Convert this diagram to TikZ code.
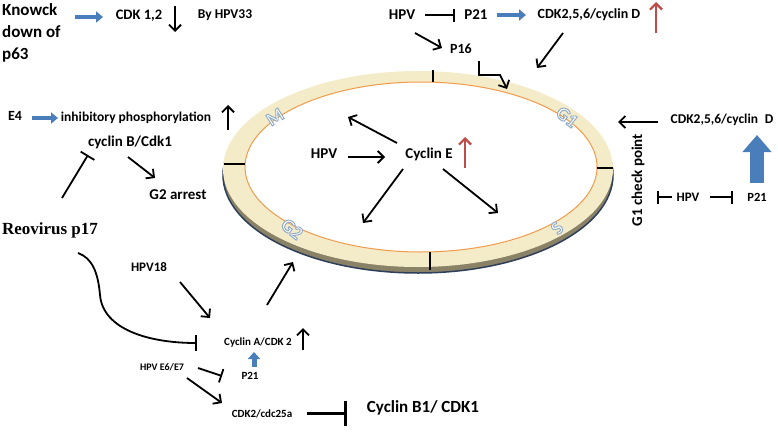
\documentclass[tikz,border=0pt]{standalone}
\usepackage{fontspec}
\setmainfont{Carlito}
\newfontfamily\reofont{Liberation Serif}
\usepackage{xcolor}
\usetikzlibrary{arrows.meta,calc}
\definecolor{azulf}{HTML}{4A7EBB}
\definecolor{rojof}{HTML}{BE4B48}
\definecolor{anillo}{HTML}{F4ECC8}
\definecolor{sombra}{HTML}{8A8266}
\definecolor{borde}{HTML}{2E3F5C}
\definecolor{naranja}{HTML}{F39A4A}
% letra con contorno
\newcommand\contorno[1]{{\color{white}%
    \special{pdf:literal direct 0.55 0.66 0.77 RG 0.9 w 2 Tr}#1%
    \special{pdf:literal direct 0 Tr}}}

\begin{document}
\begin{tikzpicture}
    [x=1pt, y=-1pt,
    lbl/.style = {font=\bfseries\fontsize{#1}{#1}\selectfont, inner sep=0pt},
    lbl/.default = 14,
    flecha/.style = {-{Straight Barb[length=6pt,width=12pt]}, line width=1.8pt},
    inhibe/.style = {-{Bar[width=#1]}, line width=1.8pt},
    inhibe/.default = 13pt,
    azul/.style = {-{Triangle[length=7pt,width=11pt]}, line width=3.5pt, azulf},
    roja/.style = {flecha, rojof, line width=2.2pt},
    fase/.style = {font=\bfseries\fontsize{19}{19}\selectfont, inner sep=0pt}]
    \useasboundingbox (0,0) rectangle (778,431);
    % Anillo del ciclo
    \filldraw[fill=sombra, draw=borde, line width=1.5pt] (418,175) ellipse [x radius=195, y radius=98];
    \fill[anillo] (418,169) ellipse [x radius=195, y radius=98];
    \filldraw[fill=white, draw=naranja, line width=1pt] (421,167) ellipse [x radius=176, y radius=85];
    \draw[line width=1.2pt] (433,70) -- (433,82);
    \draw[line width=1.2pt] (224,164) -- (245,164);
    \draw[line width=1.2pt] (430,252) -- (430,270);
    \draw[line width=1.2pt] (597,168) -- (613,168);
    % Fases
    \node[fase, rotate=32] (M) at (275,117) {\contorno{M}};
    \node[fase, rotate=-38] (G1) at (567,117) {\contorno{G1}};
    \node[fase, rotate=45] (S) at (557,228) {\contorno{S}};
    \node[fase, rotate=-38] (G2) at (292,229) {\contorno{G2}};
    % Puntos del anillo
    \coordinate (g1top) at (537,68);
    \coordinate (topG1) at (507,89);
    \coordinate (mpt) at (348,117);
    \coordinate (g2pt) at (363,223);
    \coordinate (spt) at (498,213);
    \coordinate (g1pt) at (618,122);
    \coordinate (g2ring) at (293,262);
    % Arriba
    \node[lbl=17, font=\bfseries\fontsize{17}{22}\selectfont, align=left, anchor=west] (knock) at (2,33) {Knowck\\down of\\p63};
    \node[lbl=14.5] (cdk12) at (139,16) {CDK 1,2};
    \node[lbl=13.5] (by33) at (225,15) {By HPV33};
    \node[lbl=15] (hpvA) at (402,15) {HPV};
    \node[lbl=15] (p21A) at (476,15) {P21};
    \node[lbl=14] (cycDA) at (589,15) {CDK2,5,6/cyclin D};
    \node[lbl=14] (p16) at (461,49) {P16};
    \draw[azul] ($(cdk12)+(-64,1)$) -- ($(cdk12)+(-36,1)$);
    \draw[flecha] ($(cdk12)+(36,-10)$) -- ++(0,26);
    \draw[inhibe] ($(hpvA)+(23,0)$) -- ($(p21A)+(-21,0)$);
    \draw[azul] ($(p21A)+(21,0)$) -- ($(cycDA)+(-63,0)$);
    \draw[roja] ($(cycDA)+(67,18)$) -- ++(0,-31);
    \draw[flecha] ($(hpvA)+(13,18)$) -- ($(p16)+(-19,-1)$);
    \draw[flecha] ($(p16)+(18,12)$) -- ++(0,14) -- ++(21,0) -- (topG1);
    \draw[flecha] ($(cycDA)+(-26,18)$) -- (g1top);
    % Izquierda
    \node[lbl=14] (e4) at (15,116) {E4};
    \node[lbl=13.5] (inhib) at (136,118) {inhibitory phosphorylation};
    \node[lbl=15] (cycB) at (130,142) {cyclin B/Cdk1};
    \node[lbl=15] (g2arr) at (178,195) {G2 arrest};
    \node[lbl, font=\reofont\bfseries\fontsize{17}{17}\selectfont] (reo) at (50,230) {Reovirus p17};
    \draw[azul] ($(e4)+(17,2)$) -- ($(inhib)+(-78,0)$);
    \draw[flecha] ($(inhib)+(92,12)$) -- ++(0,-25);
    \draw[inhibe=16pt] ($(reo)+(12,-32)$) -- ($(cycB)+(-42,13)$);
    \draw[flecha] ($(cycB)+(-2,15)$) -- ($(g2arr)+(-23,-17)$);
    % Abajo
    \node[lbl=13] (hpv18) at (149,267) {HPV18};
    \node[lbl=11] (cycA) at (258,342) {Cyclin A/CDK 2};
    \node[lbl=11] (p21B) at (250,376) {P21};
    \node[lbl=10] (e6e7) at (162,367) {HPV E6/E7};
    \node[lbl=11] (cdc25) at (262,414) {CDK2/cdc25a};
    \node[lbl=17] (cycB1) at (423,408) {Cyclin B1/ CDK1};
    \draw[inhibe=16pt] ($(reo)+(28,23)$) .. controls (92,258) and (98,272) .. (100,295)
        .. controls (103,330) and (150,343) .. ($(cycA)+(-61,1)$);
    \draw[flecha] ($(hpv18)+(31,15)$) -- ($(cycA)+(-48,-24)$);
    \draw[flecha] ($(cycA)+(45,8)$) -- ++(0,-22);
    \draw[flecha] ($(cycA)+(9,-37)$) -- (g2ring);
    \draw[-{Triangle[length=7pt,width=12pt]}, line width=5pt, azulf] ($(p21B)+(4,-9)$) -- ($(cycA)+(-4,10)$);
    \draw[inhibe=14pt] ($(e6e7)+(36,1)$) -- ($(p21B)+(-28,0)$);
    \draw[flecha] ($(e6e7)+(25,11)$) -- ($(cdc25)+(-40,-11)$);
    \draw[inhibe=25pt, line width=3pt] ($(cdc25)+(45,-1)$) -- ($(cycB1)+(-76,5)$);
    % Centro
    \node[lbl=15] (hpvC) at (324,154) {HPV};
    \node[lbl=15] (cycE) at (429,154) {Cyclin E};
    \draw[flecha] ($(hpvC)+(24,3)$) -- ($(cycE)+(-44,3)$);
    \draw[roja] ($(cycE)+(36,14)$) -- ++(0,-31);
    \draw[flecha] ($(cycE)+(-32,-11)$) -- (mpt);
    \draw[flecha] ($(cycE)+(-26,15)$) -- (g2pt);
    \draw[flecha] ($(cycE)+(14,15)$) -- (spt);
    % Derecha
    \node[lbl=13.5] (cycDB) at (722,120) {CDK2,5,6/cyclin\enspace D};
    \node[lbl=15, rotate=90] (g1cp) at (638,180) {G1 check point};
    \node[lbl=13] (hpvR) at (688,197) {HPV};
    \node[lbl=12.5] (p21R) at (757,197) {P21};
    \draw[flecha] ($(cycDB)+(-64,2)$) -- (g1pt);
    \draw[-{Triangle[length=17pt,width=28pt]}, line width=14pt, azulf] ($(p21R)+(0,-14)$) -- ($(cycDB)+(35,15)$);
    \draw[inhibe] ($(hpvR)+(-16,0)$) -- ($(g1cp)+(19,17)$);
    \draw[inhibe] ($(hpvR)+(22,0)$) -- ($(p21R)+(-24,0)$);
\end{tikzpicture}
\end{document}
